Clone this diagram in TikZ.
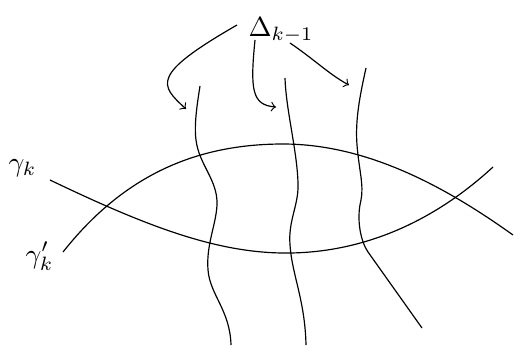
\documentclass[tikz,border=0pt]{standalone}
\begin{document}
\begin{tikzpicture}[x=0.38pt,y=-0.38pt,
  curve/.style={line width=0.45pt},
  lbl/.style={anchor=base west,inner sep=0pt,scale=1.05},
  arr/.style={->,line width=0.45pt}]
\useasboundingbox (0,0) rectangle (514,347);
% labels
\node[lbl] (D) at (248,36) {$\Delta_{k-1}$};
\node[lbl] (gk) at (8,171) {$\gamma_k$};
\node[lbl] (gkp) at (25,263) {$\gamma'_k$};
% gamma_k
\draw[curve] (50,180) .. controls (150,228) and (220,254) .. (290,253)
  .. controls (360,252) and (430,225) .. (493,167);
% gamma'_k
\draw[curve] (63,252) .. controls (120,180) and (190,144) .. (283,144)
  .. controls (370,144) and (450,190) .. (513,235);
% vertical curves
\draw[curve] (200,86) .. controls (197,105) and (194,125) .. (196,140)
  .. controls (199,165) and (218,180) .. (217,205)
  .. controls (216,225) and (206,245) .. (208,270)
  .. controls (210,295) and (230,310) .. (231,345);
\draw[curve] (285,78) .. controls (286,110) and (297,150) .. (298,183)
  .. controls (299,205) and (288,220) .. (290,245)
  .. controls (292,275) and (305,300) .. (306,345);
\draw[curve] (366,68) .. controls (360,95) and (355,120) .. (357,145)
  .. controls (359,170) and (364,185) .. (361,200)
  .. controls (356,220) and (361,242) .. (368,252) -- (422,328);
% arrows
\coordinate (a1s) at (237,25);
\coordinate (a1e) at (186,109);
\coordinate (a2s) at (255,40);
\coordinate (a2e) at (276,107);
\coordinate (a3s) at (290,43);
\coordinate (a3e) at (349,85);
\draw[arr] (a1s) .. controls (150,75) and (160,85) .. (a1e);
\draw[arr] (a2s) .. controls (250,90) and (252,105) .. (a2e);
\draw[arr] (a3s) .. controls (315,60) and (330,75) .. (a3e);
\end{tikzpicture}
\end{document}
